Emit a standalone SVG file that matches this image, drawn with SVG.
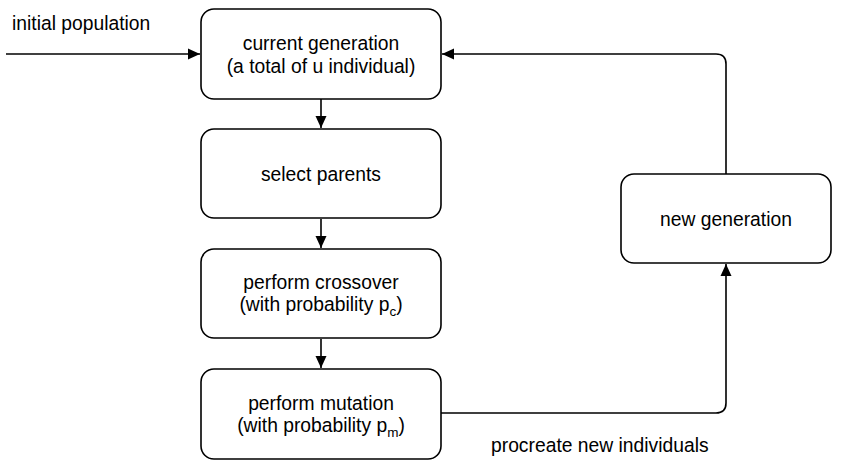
<svg xmlns="http://www.w3.org/2000/svg" width="844" height="465" viewBox="0 0 844 465">
<style>
.box{fill:#fff;stroke:#000;stroke-width:1.6}
.t{font-family:"Liberation Sans",Arial,sans-serif;font-size:19.3px;fill:#000}
.c{text-anchor:middle}
.sub{font-size:13.5px}
.edge{fill:none;stroke:#000;stroke-width:1.6}
</style>
<defs>
<marker id="arr" viewBox="0 0 12 12" refX="12" refY="6" markerWidth="12" markerHeight="12" markerUnits="userSpaceOnUse" orient="auto">
<path d="M0,0.5 L12,6 L0,11.5 Z" fill="#000"/>
</marker>
</defs>
<rect width="844" height="465" fill="#fff"/>
<g id="connectors">
<path class="edge" d="M6,54 H200" marker-end="url(#arr)"/>
<path class="edge" d="M321,99 V128" marker-end="url(#arr)"/>
<path class="edge" d="M321,219 V248" marker-end="url(#arr)"/>
<path class="edge" d="M321,339 V368" marker-end="url(#arr)"/>
<path class="edge" d="M441,413 H716 Q726,413 726,403 V264" marker-end="url(#arr)"/>
<path class="edge" d="M726,174 V64 Q726,54 716,54 H442" marker-end="url(#arr)"/>
<text class="t" x="12" y="30">initial population</text>
<text class="t" x="491" y="452">procreate new individuals</text>
</g>
<g id="current">
<rect class="box" x="201" y="9" width="240" height="90" rx="13"/>
<text class="t c" x="321" y="50">current generation</text>
<text class="t c" x="321" y="73">(a total of u individual)</text>
</g>
<g id="select">
<rect class="box" x="201" y="129" width="240" height="89" rx="13"/>
<text class="t c" x="321" y="181">select parents</text>
</g>
<g id="crossover">
<rect class="box" x="201" y="249" width="240" height="89" rx="13"/>
<text class="t c" x="321" y="289">perform crossover</text>
<text class="t c" x="321" y="311">(with probability p<tspan class="sub" dy="5">c</tspan><tspan dy="-5">)</tspan></text>
</g>
<g id="mutation">
<rect class="box" x="201" y="369" width="240" height="90" rx="13"/>
<text class="t c" x="321" y="410">perform mutation</text>
<text class="t c" x="321" y="432">(with probability p<tspan class="sub" dy="5">m</tspan><tspan dy="-5">)</tspan></text>
</g>
<g id="newgen">
<rect class="box" x="621" y="174" width="210" height="89" rx="13"/>
<text class="t c" x="726" y="226">new generation</text>
</g>
</svg>
